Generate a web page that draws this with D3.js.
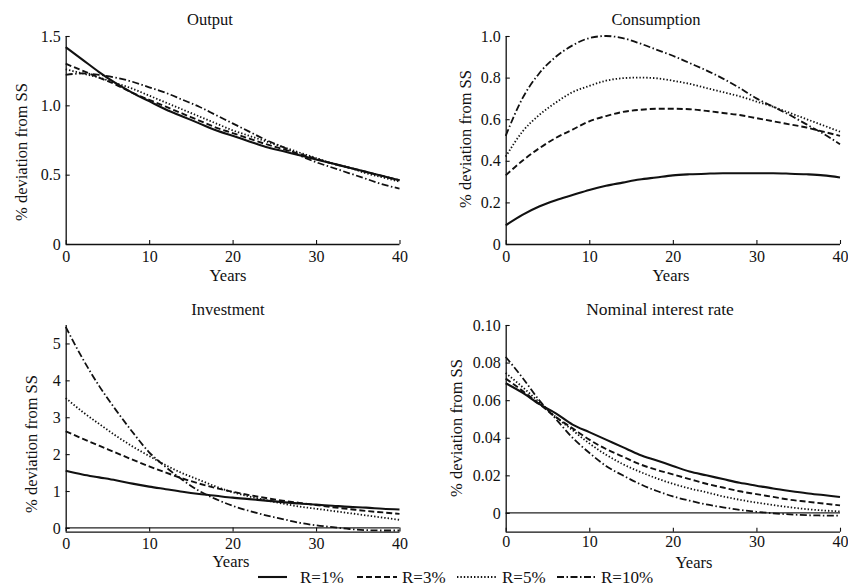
<!DOCTYPE html>
<html><head><meta charset="utf-8">
<script src="https://cdn.jsdelivr.net/npm/d3@7/dist/d3.min.js"></script>
<style>body{margin:0;background:#fff}svg{display:block}text{font-family:"Liberation Serif","Times New Roman",serif;fill:#111}</style>
</head><body><svg id="c" width="848" height="587"></svg>
<script>
const years = d3.range(0, 41, 2);
const seriesNames = ["R=1%", "R=3%", "R=5%", "R=10%"];
const outputVals = [
  [1.42,1.33,1.24,1.16,1.09,1.03,0.97,0.92,0.87,0.82,0.78,0.74,0.70,0.67,0.64,0.61,0.58,0.55,0.52,0.49,0.46],
  [1.30,1.25,1.20,1.15,1.09,1.04,0.99,0.94,0.89,0.84,0.80,0.76,0.72,0.685,0.65,0.615,0.58,0.55,0.52,0.49,0.46],
  [1.26,1.23,1.20,1.16,1.12,1.07,1.02,0.97,0.92,0.87,0.82,0.78,0.74,0.70,0.66,0.62,0.58,0.55,0.51,0.48,0.45],
  [1.22,1.23,1.22,1.20,1.17,1.13,1.09,1.04,0.99,0.93,0.87,0.81,0.75,0.70,0.64,0.59,0.55,0.51,0.47,0.43,0.40]
];
const consumptionVals = [
  [0.09,0.14,0.18,0.21,0.235,0.26,0.28,0.295,0.31,0.32,0.33,0.335,0.338,0.34,0.34,0.34,0.34,0.338,0.335,0.33,0.32],
  [0.33,0.40,0.46,0.51,0.55,0.59,0.615,0.635,0.645,0.65,0.65,0.648,0.64,0.63,0.62,0.605,0.59,0.575,0.56,0.54,0.52],
  [0.42,0.54,0.62,0.68,0.73,0.76,0.785,0.797,0.80,0.797,0.785,0.77,0.75,0.73,0.71,0.685,0.66,0.63,0.60,0.57,0.54],
  [0.52,0.70,0.82,0.90,0.955,0.99,1.0,0.99,0.965,0.935,0.905,0.87,0.835,0.795,0.75,0.70,0.66,0.62,0.575,0.53,0.48]
];
const investmentVals = [
  [1.55,1.45,1.37,1.29,1.20,1.12,1.05,0.98,0.92,0.87,0.82,0.78,0.74,0.70,0.66,0.63,0.60,0.57,0.55,0.52,0.50],
  [2.62,2.42,2.23,2.04,1.85,1.67,1.50,1.34,1.20,1.08,0.98,0.89,0.81,0.74,0.68,0.62,0.56,0.51,0.46,0.42,0.38],
  [3.52,3.15,2.82,2.50,2.21,1.95,1.70,1.48,1.30,1.12,0.97,0.85,0.75,0.66,0.58,0.52,0.46,0.40,0.34,0.28,0.22],
  [5.45,4.60,3.85,3.20,2.60,2.05,1.65,1.30,1.00,0.78,0.60,0.46,0.34,0.24,0.14,0.07,0.02,-0.03,-0.06,-0.07,-0.07]
];
const interestVals = [
  [0.069,0.064,0.058,0.053,0.047,0.043,0.039,0.035,0.031,0.028,0.025,0.022,0.020,0.018,0.016,0.0145,0.013,0.0117,0.0105,0.0095,0.0085],
  [0.0715,0.065,0.058,0.051,0.045,0.039,0.034,0.030,0.026,0.023,0.0205,0.018,0.0155,0.0135,0.0115,0.010,0.0085,0.007,0.006,0.005,0.004],
  [0.0745,0.067,0.059,0.051,0.044,0.037,0.031,0.026,0.022,0.0185,0.0155,0.013,0.011,0.0088,0.007,0.0055,0.0042,0.003,0.002,0.0013,0.0008],
  [0.083,0.072,0.060,0.050,0.040,0.032,0.025,0.020,0.0155,0.0118,0.0088,0.0065,0.0045,0.003,0.0016,0.0006,-0.0002,-0.0008,-0.0012,-0.0014,-0.0015]
];
const xTicks = [0,10,20,30,40];
const outputTicks = [0,0.5,1.0,1.5], outputTickLabels = ["0","0.5","1.0","1.5"];
const consTicks = [0,0.2,0.4,0.6,0.8,1.0], consTickLabels = ["0","0.2","0.4","0.6","0.8","1.0"];
const invTicks = [0,1,2,3,4,5], invTickLabels = ["0","1","2","3","4","5"];
const rateTicks = [0,0.02,0.04,0.06,0.08,0.10], rateTickLabels = ["0","0.02","0.04","0.06","0.08","0.10"];
const titles = ["Output","Consumption","Investment","Nominal interest rate"];

const dashes = [null, "6,3", "1.4,2", "7,2.5,1.5,2.5"];
const widths = [2.1, 1.9, 1.8, 1.8];

const svg = d3.select("#c");
const panels = [
  {vals: outputVals, title: titles[0], yd:[0,1.5], xr:[65.7,399.5], yr:[244,36], ticks:outputTicks, tl:outputTickLabels, zero:false,
   tpos:[210,19], tsize:16.5, ypos:[228,275], lpos:[21,152], xlabY:256},
  {vals: consumptionVals, title: titles[1], yd:[0,1.0], xr:[505.7,840], yr:[244,36], ticks:consTicks, tl:consTickLabels, zero:false,
   tpos:[656,19], tsize:16.5, ypos:[671,275], lpos:[465,139], xlabY:256},
  {vals: investmentVals, title: titles[2], yd:[-0.1,5.5], xr:[65.7,399.5], yr:[531.6,325], ticks:invTicks, tl:invTickLabels, zero:true,
   tpos:[228,309], tsize:16.5, ypos:[231,561], lpos:[31,444], xlabY:543.5},
  {vals: interestVals, title: titles[3], yd:[-0.01,0.10], xr:[505.7,840], yr:[531.7,325], ticks:rateTicks, tl:rateTickLabels, zero:true,
   tpos:[660,309], tsize:17.5, ypos:[694,562], lpos:[456.5,428], xlabY:541.5}
];

panels.forEach(p => {
  const x = d3.scaleLinear().domain([0,40]).range(p.xr);
  const y = d3.scaleLinear().domain(p.yd).range(p.yr);
  const g = svg.append("g");
  if (p.zero) {
    g.append("line").attr("x1", x(0)).attr("x2", x(40)).attr("y1", y(0)).attr("y2", y(0))
      .attr("stroke", "#222").attr("stroke-width", 1.1);
  }
  const yAxis = d3.axisLeft(y).tickValues(p.ticks).tickSize(-4).tickPadding(5)
    .tickFormat((d,i) => p.tl[i]);
  const ya = g.append("g").attr("transform", `translate(${p.xr[0]},0)`).call(yAxis);
  const xAxis = d3.axisBottom(x).tickValues(xTicks).tickSize(-4).tickPadding(0).tickFormat(d3.format("d"));
  const xa = g.append("g").attr("transform", `translate(0,${p.yr[0]})`).call(xAxis);
  [ya, xa].forEach(a => {
    a.select(".domain").attr("stroke", "#111").attr("stroke-width", 1.3);
    a.selectAll(".tick line").attr("stroke", "#111").attr("stroke-width", 1.1);
    a.selectAll("text").style("font-family", '"Liberation Serif",serif').style("font-size", "16px").attr("fill", "#111");
  });
  ya.select(".domain").attr("d", `M0.5,${p.yr[0]}V${p.yr[1]}`);
  xa.select(".domain").attr("d", `M${p.xr[0]},0.5H${p.xr[1]}`);
  xa.selectAll(".tick text").attr("y", p.xlabY - p.yr[0]).attr("dy", "0.35em");
  const line = d3.line().x((d,i) => x(years[i])).y(d => y(d)).curve(d3.curveMonotoneX);
  p.vals.forEach((s, k) => {
    g.append("path").datum(s).attr("d", line).attr("fill", "none").attr("stroke", "#111")
      .attr("stroke-width", widths[k]).attr("stroke-dasharray", dashes[k]);
  });
  g.append("text").attr("x", p.tpos[0]).attr("y", p.tpos[1]).attr("dy","0.35em").attr("text-anchor","middle")
    .style("font-size", p.tsize + "px").text(p.title);
  g.append("text").attr("x", p.ypos[0]).attr("y", p.ypos[1]).attr("dy","0.35em").attr("text-anchor","middle")
    .style("font-size","16.5px").text("Years");
  g.append("text").attr("transform", `translate(${p.lpos[0]},${p.lpos[1]}) rotate(-90)`).attr("dy","0.35em")
    .attr("text-anchor","middle").style("font-size","16.5px").text("% deviation from SS");
});

const legendPos = [[258,287,300],[357,397,402],[457,497,502],[557,596,601]];
const lg = svg.append("g");
seriesNames.forEach((n, k) => {
  const p = legendPos[k];
  lg.append("line").attr("x1", p[0]).attr("x2", p[1]).attr("y1", 577).attr("y2", 577)
    .attr("stroke", "#111").attr("stroke-width", widths[k]).attr("stroke-dasharray", dashes[k]);
  lg.append("text").attr("x", p[2]).attr("y", 577).attr("dy","0.35em").style("font-size","17px").text(n);
});
</script></body></html>
